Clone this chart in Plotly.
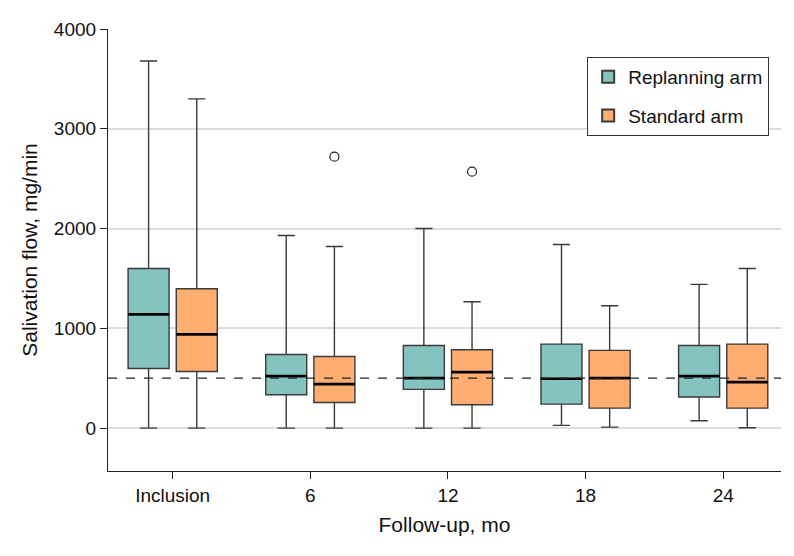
import plotly.graph_objects as go

# follow-up visits
visits = ['Inclusion', '6', '12', '18', '24']

# Replanning arm box stats, mg/min
rep_q1 = [598, 334, 388, 240, 311]
rep_median = [1140, 521, 501, 494, 521]
rep_q3 = [1600, 738, 828, 842, 828]
rep_low = [0, 0, 0, 27, 73]
rep_high = [3680, 1930, 2000, 1840, 1440]

# Standard arm box stats, mg/min
std_q1 = [568, 257, 234, 200, 200]
std_median = [939, 441, 561, 501, 461]
std_q3 = [1396, 718, 785, 779, 842]
std_low = [0, 0, 0, 10, 3]
std_high = [3300, 1820, 1266, 1226, 1600]

# outliers (standard arm)
out_visit = [1, 2]
out_value = [2720, 2570]

ref_line = 500

FONT = "Liberation Sans, Arial, sans-serif"
OFFSET = 0.175
BOXW = 0.298

fig = go.Figure()

arms = [
    ('Replanning arm', -OFFSET, '#84C3C0', rep_q1, rep_median, rep_q3, rep_low, rep_high),
    ('Standard arm', OFFSET, '#FFAD70', std_q1, std_median, std_q3, std_low, std_high),
]

for name, off, color, q1, med, q3, lo, hi in arms:
    pos = [i + off for i in range(len(visits))]
    fig.add_trace(go.Box(
        x=pos, q1=q1, median=med, q3=q3,
        lowerfence=lo, upperfence=hi,
        width=BOXW, whiskerwidth=0.42,
        fillcolor=color,
        line=dict(color='#3a3a3a', width=1.4),
        name=name, legendgroup=name, boxpoints=False, hoverinfo='skip'))

    # thick median bars
    mx, my = [], []
    for p, m in zip(pos, med):
        mx += [p - BOXW / 2, p + BOXW / 2, None]
        my += [m, m, None]
    fig.add_trace(go.Scatter(x=mx, y=my, mode='lines',
                             line=dict(color='black', width=2.6),
                             showlegend=False, hoverinfo='skip'))

fig.add_trace(go.Scatter(
    x=[v + OFFSET for v in out_visit], y=out_value, mode='markers',
    marker=dict(symbol='circle-open', size=9, color='#222', line=dict(width=1.2)),
    showlegend=False, hoverinfo='skip'))

fig.add_hline(y=ref_line, line=dict(color='#222', width=1.2, dash='dash'))

fig.update_layout(
    width=794, height=556,
    margin=dict(l=108, r=13, t=29, b=85),
    plot_bgcolor='white', paper_bgcolor='white',
    font=dict(family=FONT, size=18, color='#111'),
    showlegend=True,
    legend=dict(x=0.712, y=0.937, xanchor='left', yanchor='top',
                bordercolor='#333', borderwidth=1, bgcolor='white',
                font=dict(family=FONT, size=19),
                traceorder='grouped', tracegroupgap=11,
                itemsizing='constant', entrywidth=162),
)

fig.update_xaxes(
    range=[-0.47, 4.42],
    tickmode='array', tickvals=list(range(len(visits))), ticktext=visits,
    tickfont=dict(family=FONT, size=19),
    showline=True, linecolor='#222', linewidth=1.2,
    ticks='outside', ticklen=7, tickcolor='#222',
    showgrid=False, zeroline=False,
    title=dict(text='Follow-up, mo', standoff=12, font=dict(family=FONT, size=21)))

fig.update_yaxes(
    range=[-430, 4000],
    tickvals=[0, 1000, 2000, 3000, 4000],
    tickfont=dict(family=FONT, size=19),
    showline=True, linecolor='#222', linewidth=1.2,
    ticks='outside', ticklen=7, tickcolor='#222',
    showgrid=True, gridcolor='#dcdcdc', gridwidth=1.5,
    zeroline=False,
    title=dict(text='Salivation flow, mg/min', standoff=10, font=dict(family=FONT, size=21)))

fig.write_html("out.html", config={'displayModeBar': False},
               post_script="document.body.style.margin='0';")
